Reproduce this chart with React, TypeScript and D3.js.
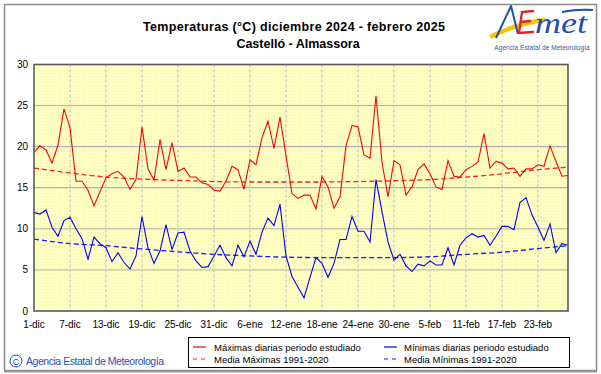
import { useMemo } from "react";
import * as d3 from "d3";

const WIDTH = 601;
const HEIGHT = 374;
const PLOT = { left: 34, right: 568, top: 64.5, bottom: 311 };

// daily maximum temperatures, 1-dic-2024 .. 28-feb-2025
const tmax = [
  19.3, 20.1, 19.6, 18.0, 20.2, 24.6, 22.3, 15.8, 15.8, 14.7,
  12.8, 14.5, 16.2, 16.7, 17.0, 16.3, 14.8, 16.0, 22.4, 17.3,
  15.9, 20.9, 17.2, 20.5, 17.0, 17.4, 16.3, 16.3, 15.6, 15.4,
  14.7, 14.6, 15.8, 17.6, 17.2, 14.8, 18.4, 17.8, 21.1, 23.1,
  19.8, 23.6, 18.9, 14.3, 13.7, 14.1, 14.1, 12.4, 16.4, 15.1,
  12.5, 13.9, 20.1, 22.6, 22.4, 19.0, 18.6, 26.2, 18.1, 13.9,
  18.3, 17.8, 14.1, 15.1, 17.2, 17.9, 16.7, 15.1, 14.8, 18.3,
  16.4, 16.3, 17.2, 17.6, 18.1, 21.6, 17.4, 18.2, 18.0, 17.3,
  17.4, 16.4, 17.3, 17.3, 17.8, 17.6, 20.1, 18.2, 16.4, 16.5,
];

// daily minimum temperatures
const tmin = [
  12.0, 11.8, 12.3, 10.2, 9.1, 11.0, 11.4, 10.0, 8.8, 6.3,
  9.0, 8.2, 7.7, 6.0, 7.1, 5.9, 5.1, 6.7, 11.5, 7.7,
  5.8, 7.3, 10.5, 7.5, 9.5, 9.6, 7.3, 6.1, 5.3, 5.4,
  6.7, 8.0, 6.5, 5.5, 8.0, 6.6, 8.5, 6.9, 9.6, 11.3,
  10.4, 13.0, 6.7, 4.2, 2.9, 1.6, 4.1, 6.5, 5.8, 4.1,
  5.8, 8.7, 8.7, 11.5, 9.7, 9.7, 8.4, 16.0, 12.1, 8.4,
  6.2, 6.9, 5.5, 4.8, 5.7, 5.5, 6.1, 5.6, 5.6, 7.7,
  5.6, 8.0, 8.9, 9.4, 9.0, 9.2, 8.0, 9.1, 10.3, 10.3,
  9.9, 13.2, 13.8, 11.7, 10.2, 8.6, 10.6, 7.1, 8.2, 8.0,
];

// 1991-2020 normals, read at the grid days
const normalDays = [0, 6, 12, 18, 24, 30, 36, 42, 48, 54, 60, 66, 72, 78, 84, 89];
const normalMax = [17.4, 16.8, 16.3, 16.05, 15.9, 15.75, 15.7, 15.7, 15.7, 15.75, 15.85, 16.0, 16.3, 16.7, 17.2, 17.5];
const normalMin = [8.75, 8.2, 7.95, 7.55, 7.2, 6.9, 6.7, 6.55, 6.5, 6.5, 6.5, 6.6, 6.9, 7.15, 7.6, 7.95];

const tickDays = [0, 6, 12, 18, 24, 30, 36, 42, 48, 54, 60, 66, 72, 78, 84];
const tickLabels = [
  "1-dic", "7-dic", "13-dic", "19-dic", "25-dic", "31-dic", "6-ene", "12-ene",
  "18-ene", "24-ene", "30-ene", "5-feb", "11-feb", "17-feb", "23-feb",
];
const yTicks = [0, 5, 10, 15, 20, 25, 30];

const FONT = "'Liberation Sans', Arial, sans-serif";

const Logo = () => (
  <g>
    {/* yellow swoosh */}
    <path d="M492,36 C506,29 522,23 544,20" fill="none" stroke="#f5c800" strokeWidth={4.5} strokeLinecap="round" />
    {/* blue A */}
    <path d="M496,38 L511,6 L518,34" fill="none" stroke="#1f4fb0" strokeWidth={2} strokeLinejoin="round" />
    {/* red E */}
    <path d="M533,11 L522,12 L519,33 L533,32 M521,22 L530,21" fill="none" stroke="#e52020" strokeWidth={2.3} strokeLinecap="round" />
    <text
      x={535}
      y={33}
      fontFamily="'Liberation Serif', serif"
      fontStyle="italic"
      fontSize={29}
      fill="#1f4fb0"
      textLength={52}
      lengthAdjust="spacingAndGlyphs"
    >
      met
    </text>
    <path d="M562,12 C572,10 582,9 593,10" fill="none" stroke="#1f4fb0" strokeWidth={2} />
    <text x={542} y={50} textAnchor="middle" fontFamily={FONT} fontSize={6.6} fill="#3a5aa8">
      Agencia Estatal de Meteorología
    </text>
  </g>
);

export default function App() {
  const x = useMemo(
    () => d3.scaleLinear().domain([0, tmax.length - 1]).range([PLOT.left, PLOT.right]),
    []
  );
  const y = useMemo(() => d3.scaleLinear().domain([0, 30]).range([PLOT.bottom, PLOT.top]), []);

  const daily = d3
    .line<number>()
    .x((_, i) => x(i))
    .y((d) => y(d));

  const normal = d3
    .line<number>()
    .x((_, i) => x(normalDays[i]))
    .y((d) => y(d))
    .curve(d3.curveMonotoneX);

  return (
    <div style={{ position: "absolute", left: 0, top: 0 }}>
      <svg width={WIDTH} height={HEIGHT} style={{ display: "block", background: "#fff" }}>
        <defs>
          <pattern id="dots" width={3} height={3} patternUnits="userSpaceOnUse">
            <rect width={3} height={3} fill="#ffffc2" />
            <rect x={1} y={1} width={1} height={1} fill="#f2f2b4" />
          </pattern>
        </defs>

        {/* outer frame */}
        <rect x={4.5} y={4.5} width={592} height={366} fill="#fff" stroke="#8a8a8a" strokeWidth={1.5} />
        <line x1={4} x2={597} y1={371.5} y2={371.5} stroke="#9a9a9a" strokeWidth={2} />

        {/* titles */}
        <text x={294} y={31} textAnchor="middle" fontFamily={FONT} fontWeight="bold" fontSize={12.5} fill="#000" textLength={302}>
          Temperaturas (°C) diciembre 2024 - febrero 2025
        </text>
        <text x={298} y={48} textAnchor="middle" fontFamily={FONT} fontWeight="bold" fontSize={12.5} fill="#000">
          Castelló - Almassora
        </text>
        <Logo />

        {/* plot background */}
        <rect
          x={PLOT.left}
          y={PLOT.top}
          width={PLOT.right - PLOT.left}
          height={PLOT.bottom - PLOT.top}
          fill="url(#dots)"
        />

        {/* horizontal grid */}
        {yTicks
          .filter((t) => t > 0 && t < 30)
          .map((t) => (
            <line
              key={`h${t}`}
              x1={PLOT.left}
              x2={PLOT.right}
              y1={y(t)}
              y2={y(t)}
              stroke={t === 15 || t === 20 ? "#9a9ab6" : "#b4b0a4"}
              strokeWidth={1}
            />
          ))}
        {/* vertical grid */}
        {tickDays
          .filter((d) => d > 0)
          .map((d) => (
            <line
              key={`v${d}`}
              x1={x(d)}
              x2={x(d)}
              y1={PLOT.top}
              y2={PLOT.bottom}
              stroke="#c4c4c0"
              strokeWidth={1.2}
              strokeDasharray="3,2"
            />
          ))}

        {/* normals */}
        <path d={normal(normalMax) ?? ""} fill="none" stroke="#ff2020" strokeWidth={1.3} strokeDasharray="5,3" />
        <path d={normal(normalMin) ?? ""} fill="none" stroke="#1a1aff" strokeWidth={1.3} strokeDasharray="5,3" />

        {/* daily series */}
        <path d={daily(tmax) ?? ""} fill="none" stroke="#ff0000" strokeWidth={1.1} />
        <path d={daily(tmin) ?? ""} fill="none" stroke="#0000ff" strokeWidth={1.1} />

        {/* plot border */}
        <rect
          x={PLOT.left}
          y={PLOT.top}
          width={PLOT.right - PLOT.left}
          height={PLOT.bottom - PLOT.top}
          fill="none"
          stroke="#5a5a5a"
          strokeWidth={1.6}
        />

        {/* y axis labels */}
        {yTicks.map((t) => (
          <text key={`yl${t}`} x={28} y={y(t) + 3.5} textAnchor="end" fontFamily={FONT} fontSize={10} fill="#000">
            {t}
          </text>
        ))}
        {/* x axis labels */}
        {tickDays.map((d, i) => (
          <text key={`xl${d}`} x={x(d)} y={328} textAnchor="middle" fontFamily={FONT} fontSize={10} fill="#000">
            {tickLabels[i]}
          </text>
        ))}

        {/* copyright */}
        <circle cx={16} cy={361} r={6} fill="none" stroke="#2a4fb0" strokeWidth={1} />
        <text x={16} y={364.5} textAnchor="middle" fontFamily={FONT} fontSize={9} fill="#2a4fb0">
          C
        </text>
        <text x={26} y={365} fontFamily={FONT} fontSize={10.5} fill="#2a4fb0" textLength={138}>
          Agencia Estatal de Meteorología
        </text>

        {/* legend */}
        <rect x={188.5} y={337.5} width={381} height={30} fill="#fff" stroke="#000" strokeWidth={1} />
        <line x1={193} x2={206} y1={347} y2={347} stroke="#ff0000" strokeWidth={1.2} />
        <text x={214} y={350.5} fontFamily={FONT} fontSize={9.5} fill="#000">
          Máximas diarias periodo estudiado
        </text>
        <line x1={193} x2={206} y1={359} y2={359} stroke="#ff2020" strokeWidth={1.2} strokeDasharray="4,4" />
        <text x={214} y={362.5} fontFamily={FONT} fontSize={9.5} fill="#000">
          Media Máximas 1991-2020
        </text>
        <line x1={384} x2={397} y1={347} y2={347} stroke="#0000ff" strokeWidth={1.2} />
        <text x={404} y={350.5} fontFamily={FONT} fontSize={9.5} fill="#000">
          Mínimas diarias periodo estudiado
        </text>
        <line x1={384} x2={397} y1={359} y2={359} stroke="#1a1aff" strokeWidth={1.2} strokeDasharray="4,4" />
        <text x={404} y={362.5} fontFamily={FONT} fontSize={9.5} fill="#000">
          Media Mínimas 1991-2020
        </text>
      </svg>
    </div>
  );
}
